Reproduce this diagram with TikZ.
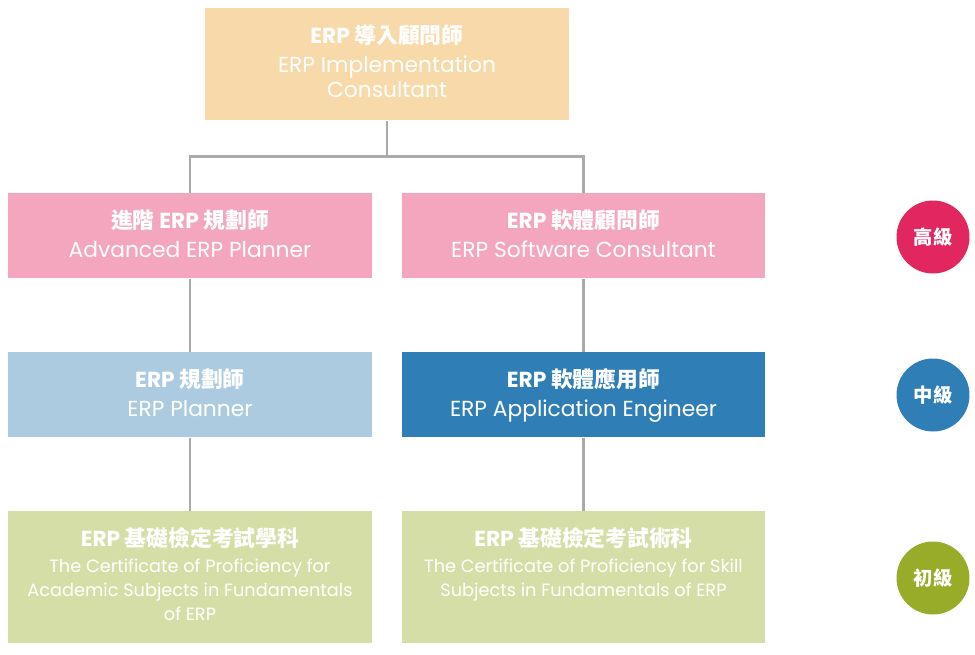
\documentclass[tikz,border=0pt]{standalone}
\usepackage{fontspec}
\setmainfont{Poppins}
\newfontfamily\cjk{Noto Sans CJK TC}

\definecolor{peach}{HTML}{F8D9A9}
\definecolor{pinkbox}{HTML}{F4A6BF}
\definecolor{paleblue}{HTML}{ACCAE0}
\definecolor{deepblue}{HTML}{2F7EB6}
\definecolor{palegreen}{HTML}{D5DEA6}
\definecolor{crimson}{HTML}{E2265F}
\definecolor{olive}{HTML}{98AC2A}
\definecolor{linegray}{HTML}{AAAAAA}

\newcommand{\titleline}[1]{{\fontsize{12.4}{14.2}\selectfont\bfseries #1}}
\newcommand{\bigsub}[1]{{\fontsize{12.4}{14.2}\selectfont #1}}
\newcommand{\smallsub}[1]{{\fontsize{10.1}{13.6}\selectfont #1}}
\newcommand{\cardtext}[2]{\begin{minipage}[t][#1][t]{7.28cm}\centering\rule{0pt}{19.9pt}#2\end{minipage}}

\tikzset{
  level/.style={anchor=north, inner sep=0pt, text=white, font=\fontsize{12.4}{14.2}\selectfont},
  exam/.style={level, font=\fontsize{10.1}{13.6}\selectfont},
  grade/.style={shape=circle, inner sep=0pt, minimum size=1.46cm, text=white, font=\fontsize{11}{13}\selectfont\bfseries\cjk},
  link/.style={draw=linegray, line width=1.7pt}
}

\begin{document}
\begin{tikzpicture}[x=0.02cm, y=-0.02cm]
        \useasboundingbox (0,0) rectangle (975,654);

        \node[level, fill=peach] (top) at (387,8) {\cardtext{2.24cm}{\titleline{ERP {\cjk 導入顧問師}}\\[2.5pt] \bigsub{ERP Implementation}\\ \bigsub{Consultant}}};

        \node[level, fill=pinkbox] (adv) at (190,193) {\cardtext{1.7cm}{\titleline{{\cjk 進階} ERP {\cjk 規劃師}}\\[2.2pt] \bigsub{Advanced ERP Planner}}};
        \node[level, fill=pinkbox] (swc) at (583.5,193) {\cardtext{1.7cm}{\titleline{ERP {\cjk 軟體顧問師}}\\[2.2pt] \bigsub{ERP Software Consultant}}};

        \node[level, fill=paleblue] (plan) at (190,352) {\cardtext{1.7cm}{\titleline{ERP {\cjk 規劃師}}\\[2.2pt] \bigsub{ERP Planner}}};
        \node[level, fill=deepblue] (appe) at (583.5,352) {\cardtext{1.7cm}{\titleline{ERP {\cjk 軟體應用師}}\\[2.2pt] \bigsub{ERP Application Engineer}}};

        \node[exam, fill=palegreen] (acad) at (190,511) {\cardtext{2.64cm}{\titleline{ERP {\cjk 基礎檢定考試學科}}\\[1.2pt] \smallsub{The Certificate of Proficiency for}\\ \smallsub{Academic Subjects in Fundamentals}\\ \smallsub{of ERP}}};
        \node[exam, fill=palegreen] (skill) at (583.5,511) {\cardtext{2.64cm}{\titleline{ERP {\cjk 基礎檢定考試術科}}\\[1.2pt] \smallsub{The Certificate of Proficiency for Skill}\\ \smallsub{Subjects in Fundamentals of ERP}}};

        \node[grade, fill=crimson] (high) at (933,237) {高級};
        \node[grade, fill=deepblue] (mid) at (933,395) {中級};
        \node[grade, fill=olive] (low) at (933,578) {初級};

        \coordinate (split) at (387,156);
        \path [link] (top.south) edge (split);
        \draw [link] (adv.north) |- (split) -| (swc.north);

        \path [link] (adv) edge (plan);
        \path [link] (plan) edge (acad);
        \path [link] (swc) edge (appe);
        \path [link] (appe) edge (skill);
    \end{tikzpicture}
\end{document}
